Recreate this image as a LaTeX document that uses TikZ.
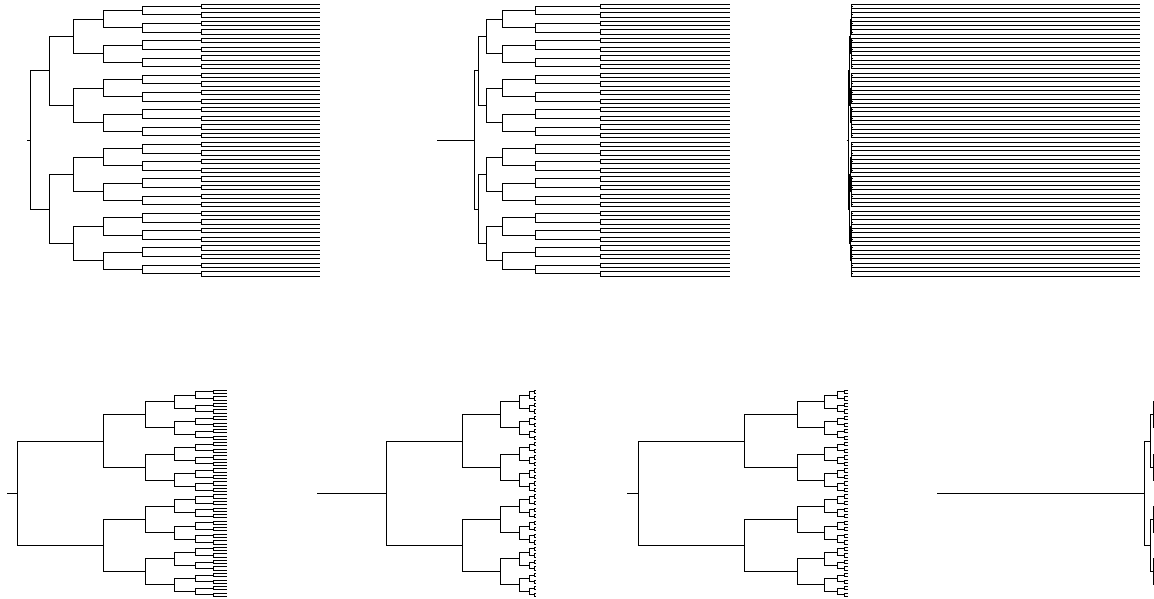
\documentclass[tikz,border=0pt]{standalone}
\usepackage{tikz}

\begin{document}
\begin{tikzpicture}[
  x=1pt, y=-1pt,
  branch/.style={draw, line width=0.9pt, black}
]
  \useasboundingbox (0,0) rectangle (1154,599);

  % name/stub start/x of each level/y of root/leaf spacing
  \foreach \t/\s/\xs/\yc/\dy in {
    t1/27/{30,49.7,73.4,103,142.4,201.6,320}/140/4.317,
    t2/437/{474.3,478.4,486.5,502.7,535.2,600.1,730}/140/4.317,
    t3/846.7/{848.5,849.6,850.5,851.1,851.5,851.9,1140}/140/4.317,
    b1/7.3/{17.3,103,145.85,174.4,195.8,213,227.3}/493.3/3.27,
    b2/317.3/{386.7,462.7,500.7,519.7,529.2,534,536.4}/493.3/3.27,
    b3/627.3/{638.3,744.7,797.9,824.5,837.8,844.4,847.7}/493.3/3.27,
    b4/937.3/{1144,1150.7,1153.3,1154.3,1154.7,1154.85,1154.9}/493.3/3.27} {
    \coordinate (\t-s) at (\s,\yc);
    \foreach \xd [count=\d from 0] in \xs {
      \pgfmathtruncatemacro\kmax{2^\d-1}
      \foreach \k in {0,...,\kmax} {
        \pgfmathsetmacro\yk{\yc+((\k+0.5)*2^(6-\d)-32)*\dy}
        \coordinate (\t-\d-\k) at (\xd,\yk);
      }
    }
    \draw[branch] (\t-s) -- (\t-0-0);
    \foreach \d in {1,...,6} {
      \pgfmathtruncatemacro\dp{\d-1}
      \pgfmathtruncatemacro\kmax{2^\d-1}
      \foreach \k in {0,...,\kmax} {
        \pgfmathtruncatemacro\kp{div(\k,2)}
        \draw[branch] (\t-\dp-\kp) |- (\t-\d-\k);
      }
    }
  }
\end{tikzpicture}
\end{document}
